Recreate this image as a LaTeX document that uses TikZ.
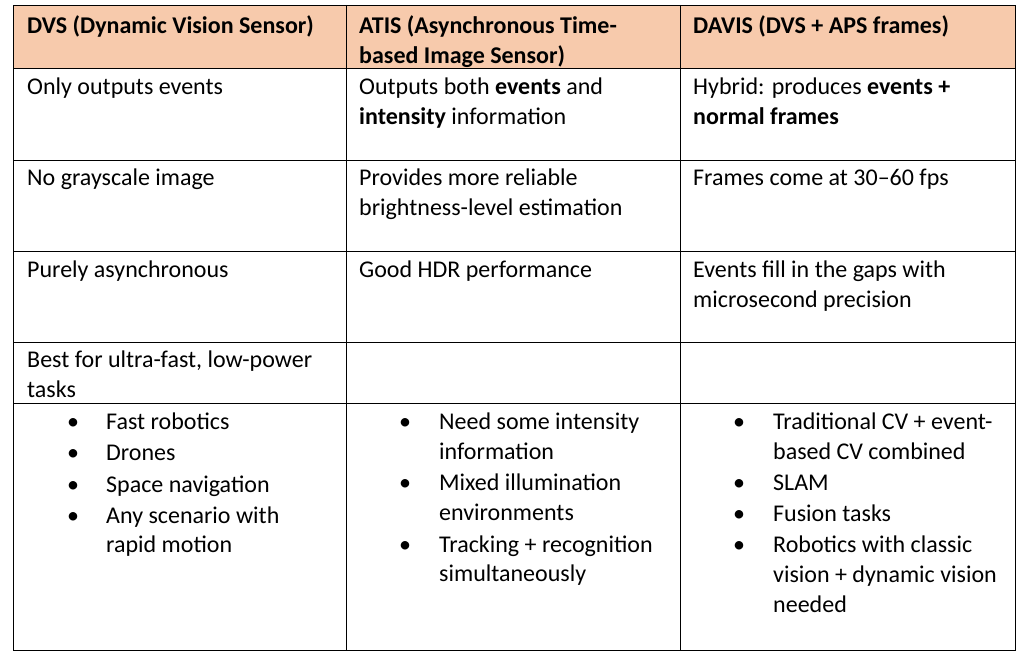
\documentclass[tikz,border=0pt]{standalone}
\usepackage{fontspec}
\setmainfont{Carlito}
\definecolor{hdr}{HTML}{F7CAAC}
\begin{document}
\begin{tikzpicture}[x=1pt,y=-1pt,
  t/.style={anchor=base west,inner sep=0pt,font=\fontsize{24}{30}\selectfont},
  grid/.style={draw=black,line width=0.8pt}]
\useasboundingbox (0,0) rectangle (1025,660);
\fill[hdr] (13,5) rectangle (1015,68);
\draw[grid] (13,5) rectangle (1015,650);
\foreach \yy in {68,160,251,342,403} \draw[grid] (13,\yy) -- (1015,\yy);
\draw[grid] (346,5) -- (346,650);
\draw[grid] (680,5) -- (680,650);
% header
\node[t] (h1) at (27,34) {\bfseries DVS (Dynamic Vision Sensor)};
\node[t] (h2a) at (359,34) {\bfseries ATIS (Asynchronous Time-};
\node[t] (h2b) at (359,64) {\bfseries based Image Sensor)};
\node[t] (h3) at (693,34) {\bfseries DAVIS (DVS + APS frames)};
% row 1
\node[t] (a1) at (27,95) {Only outputs events};
\node[t] (b1a) at (359,95) {Outputs both \textbf{events} and};
\node[t] (b1b) at (359,125) {\textbf{intensity} information};
\node[t] (c1a) at (693,95) {Hybrid: produces \textbf{events +}};
\node[t] (c1b) at (693,125) {\textbf{normal frames}};
% row 2
\node[t] (a2) at (27,186) {No grayscale image};
\node[t] (b2a) at (359,186) {Provides more reliable};
\node[t] (b2b) at (359,216) {brightness-level estimation};
\node[t] (c2) at (693,186) {Frames come at 30–60 fps};
% row 3
\node[t] (a3) at (27,277) {Purely asynchronous};
\node[t] (b3) at (359,277) {Good HDR performance};
\node[t] (c3a) at (693,277) {Events fill in the gaps with};
\node[t] (c3b) at (693,307) {microsecond precision};
% row 4
\node[t] (a4a) at (27,367) {Best for ultra-fast, low-power};
\node[t] (a4b) at (27,397) {tasks};
% bullets col1
\foreach \yy/\txt [count=\i] in {429/Fast robotics,460/Drones,492/Space navigation,523/Any scenario with}
  {\node[t] (ba\i) at (67,\yy) {\textbullet}; \node[t] (ta\i) at (106,\yy) {\txt};}
\node[t] (ta5) at (106,552) {rapid motion};
% col2
\node[t] (bb1) at (399,429) {\textbullet};
\node[t] (tb1) at (439,429) {Need some intensity};
\node[t] (tb2) at (439,459) {information};
\node[t] (bb2) at (399,490) {\textbullet};
\node[t] (tb3) at (439,490) {Mixed illumination};
\node[t] (tb4) at (439,520) {environments};
\node[t] (bb3) at (399,552) {\textbullet};
\node[t] (tb5) at (439,552) {Tracking + recognition};
\node[t] (tb6) at (439,581) {simultaneously};
% col3
\node[t] (bc1) at (733,429) {\textbullet};
\node[t] (tc1) at (773,429) {Traditional CV + event-};
\node[t] (tc2) at (773,459) {based CV combined};
\node[t] (bc2) at (733,490) {\textbullet};
\node[t] (tc3) at (773,490) {SLAM};
\node[t] (bc3) at (733,521) {\textbullet};
\node[t] (tc4) at (773,521) {Fusion tasks};
\node[t] (bc4) at (733,552) {\textbullet};
\node[t] (tc5) at (773,552) {Robotics with classic};
\node[t] (tc6) at (773,582) {vision + dynamic vision};
\node[t] (tc7) at (773,612) {needed};
\end{tikzpicture}
\end{document}
